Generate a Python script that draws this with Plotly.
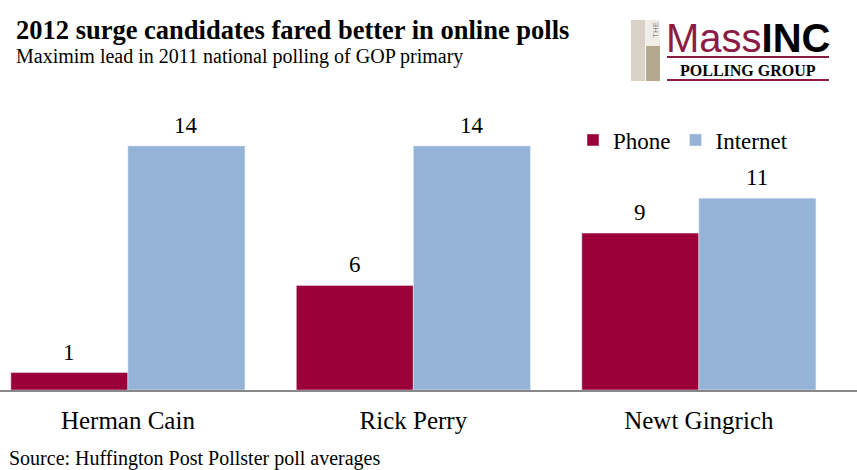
import plotly.graph_objects as go

candidates = ["Herman Cain", "Rick Perry", "Newt Gingrich"]
phone = [1, 6, 9]
internet = [14, 14, 11]

W, H = 857, 470
TOP, BASE = 111, 390          # plot area top / x-axis baseline in px
PH = BASE - TOP

maroon = "#9b0038"
blue = "#95b3d7"
logo_red = "#8a1c45"
serif = "Liberation Serif"


def px(x):
    return x / W


def py(y):
    return (BASE - y) / PH


fig = go.Figure()
fig.add_trace(go.Bar(x=candidates, y=phone, name="Phone", marker_color=maroon))
fig.add_trace(go.Bar(x=candidates, y=internet, name="Internet", marker_color=blue))

annotations = []
# value labels above bars
for vals, shift in [(phone, -58.5), (internet, 58.5)]:
    for c, v in zip(candidates, vals):
        annotations.append(dict(x=c, y=v, xref="x", yref="y", text=str(v), showarrow=False,
                                xshift=shift, yshift=6, yanchor="bottom",
                                font=dict(family=serif, size=23, color="black")))

# titles
annotations += [
    dict(x=px(14), y=py(30), xref="paper", yref="paper", xanchor="left", yanchor="middle",
         text="<b>2012 surge candidates fared better in online polls</b>", showarrow=False,
         font=dict(family=serif, size=26.5, color="black")),
    dict(x=px(14), y=py(56), xref="paper", yref="paper", xanchor="left", yanchor="middle",
         text="Maximim lead in 2011 national polling of GOP primary", showarrow=False,
         font=dict(family=serif, size=20, color="black")),
    dict(x=px(7), y=py(458), xref="paper", yref="paper", xanchor="left", yanchor="middle",
         text="Source: Huffington Post Pollster poll averages", showarrow=False,
         font=dict(family=serif, size=20, color="black")),
]

# logo
annotations += [
    dict(x=px(664), y=py(38), xref="paper", yref="paper", xanchor="left", yanchor="middle",
         text="<span style='color:%s'>Mass</span><b>INC</b>" % logo_red, showarrow=False,
         font=dict(family="Liberation Sans", size=40, color="black")),
    dict(x=px(748), y=py(70), xref="paper", yref="paper", xanchor="center", yanchor="middle",
         text="<b>POLLING GROUP</b>", showarrow=False,
         font=dict(family=serif, size=16, color="black")),
    dict(x=px(655), y=py(30), xref="paper", yref="paper", xanchor="center", yanchor="middle",
         text="THE", textangle=-90, showarrow=False,
         font=dict(family="Liberation Sans", size=8, color="#888888")),
]

shapes = [
    dict(type="rect", xref="paper", yref="paper", x0=px(631), x1=px(645), y0=py(20), y1=py(81),
         fillcolor="#d9d0c6", line_width=0),
    dict(type="rect", xref="paper", yref="paper", x0=px(645), x1=px(660), y0=py(20), y1=py(46),
         fillcolor="#f1ede8", line_width=0),
    dict(type="rect", xref="paper", yref="paper", x0=px(646), x1=px(660), y0=py(46), y1=py(81),
         fillcolor="#b4a88f", line_width=0),
    dict(type="line", xref="paper", yref="paper", x0=px(667), x1=px(829), y0=py(57), y1=py(57),
         line=dict(color=logo_red, width=2)),
    dict(type="line", xref="paper", yref="paper", x0=px(667), x1=px(829), y0=py(80), y1=py(80),
         line=dict(color=logo_red, width=2)),
]

fig.update_layout(
    width=W, height=H,
    margin=dict(l=0, r=0, t=TOP, b=H - BASE),
    barmode="group", bargap=0.18, bargroupgap=0,
    plot_bgcolor="white", paper_bgcolor="white",
    font=dict(family=serif, color="black"),
    annotations=annotations, shapes=shapes,
    legend=dict(orientation="h", x=px(573), y=py(140), xanchor="left", yanchor="middle",
                font=dict(family=serif, size=23, color="black"), bgcolor="rgba(0,0,0,0)"),
)
fig.update_xaxes(range=[-0.448, 2.554], showline=True, linecolor="#888888", linewidth=2,
                 ticks="", tickfont=dict(family=serif, size=25, color="black"),
                 ticklabelstandoff=7, showgrid=False)
fig.update_yaxes(range=[0, 16], visible=False)

# drop the browser's default page margin so the figure sits at the window corner
fig.write_html("out.html", config={"displayModeBar": False},
               post_script="document.body.style.margin='0';")
